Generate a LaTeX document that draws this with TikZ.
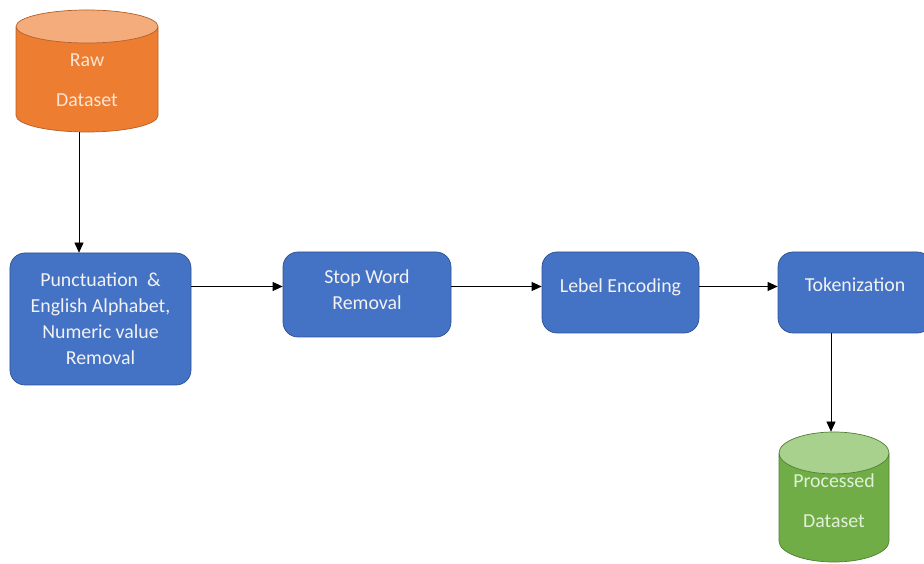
\documentclass[tikz,border=0pt]{standalone}
\usepackage{fontspec}
\setmainfont{Carlito}
\usetikzlibrary{shapes.geometric, arrows.meta}
\definecolor{stepblue}{HTML}{4472C4}
\definecolor{stepedge}{HTML}{2F528F}
\definecolor{rawbody}{HTML}{ED7D31}
\definecolor{rawtop}{HTML}{F4AC7C}
\definecolor{rawedge}{HTML}{B65F24}
\definecolor{rawtext}{HTML}{FBE5D6}
\definecolor{procbody}{HTML}{70AD47}
\definecolor{proctop}{HTML}{A9D18E}
\definecolor{procedge}{HTML}{507E32}
\definecolor{proctext}{HTML}{E2F0D9}
\begin{document}
\begin{tikzpicture}[
    every node/.style={align=center, font=\fontsize{11.3}{14.8}\selectfont},
    stepbox/.style={rectangle, rounded corners=0.3cm, draw=stepedge, fill=stepblue, text=white!95!black},
    dbase/.style={cylinder, shape border rotate=90, anchor=shape center, draw, cylinder uses custom fill},
    arrow/.style={-{Triangle[length=2mm, width=1.8mm]}, thin}
]
    \useasboundingbox (0,0) rectangle (18.48,11.26);
    \clip (0,0) rectangle (18.48,11.26);

    % Data stores
    \node[dbase, aspect=0.45, draw=rawedge, cylinder body fill=rawbody, cylinder end fill=rawtop,
          text=rawtext, minimum width=2.84cm, minimum height=2.44cm, text depth=3pt] (raw) at (1.74,9.84) {Raw\\[8pt]Dataset};
    \node[dbase, aspect=0.45, draw=procedge, cylinder body fill=procbody, cylinder end fill=proctop,
          text=proctext, minimum width=2.2cm, minimum height=2.6cm, text height=17.5pt] (processed) at (16.68,1.32) {Processed\\[8pt]Dataset};

    % Processing steps
    \node[stepbox, minimum width=3.62cm, minimum height=2.64cm] (punct) at (2.01,4.88) {Punctuation\ \ \&\\English Alphabet,\\Numeric value\\Removal};
    \node[stepbox, minimum width=3.36cm, minimum height=1.7cm, text depth=6pt] (stopword) at (7.34,5.37) {Stop Word\\Removal};
    \node[stepbox, minimum width=3.14cm, minimum height=1.62cm, text depth=8pt] (lebel) at (12.41,5.41) {Lebel Encoding};
    \node[stepbox, minimum width=3.08cm, minimum height=1.62cm, text depth=9pt] (token) at (17.1,5.41) {Tokenization};

    % Connections
    \coordinate (flow) at (0,5.53);
    \draw[arrow] ([xshift=-0.16cm]raw.south) -- ([xshift=-0.16cm]raw.south |- punct.north);
    \draw[arrow] (punct.east |- flow) -- (stopword.west |- flow);
    \draw[arrow] (stopword.east |- flow) -- (lebel.west |- flow);
    \draw[arrow] (lebel.east |- flow) -- (token.west |- flow);
    \draw[arrow] ([xshift=-0.06cm]token.south -| processed.north) -- ([xshift=-0.06cm]processed.north);
\end{tikzpicture}
\end{document}
